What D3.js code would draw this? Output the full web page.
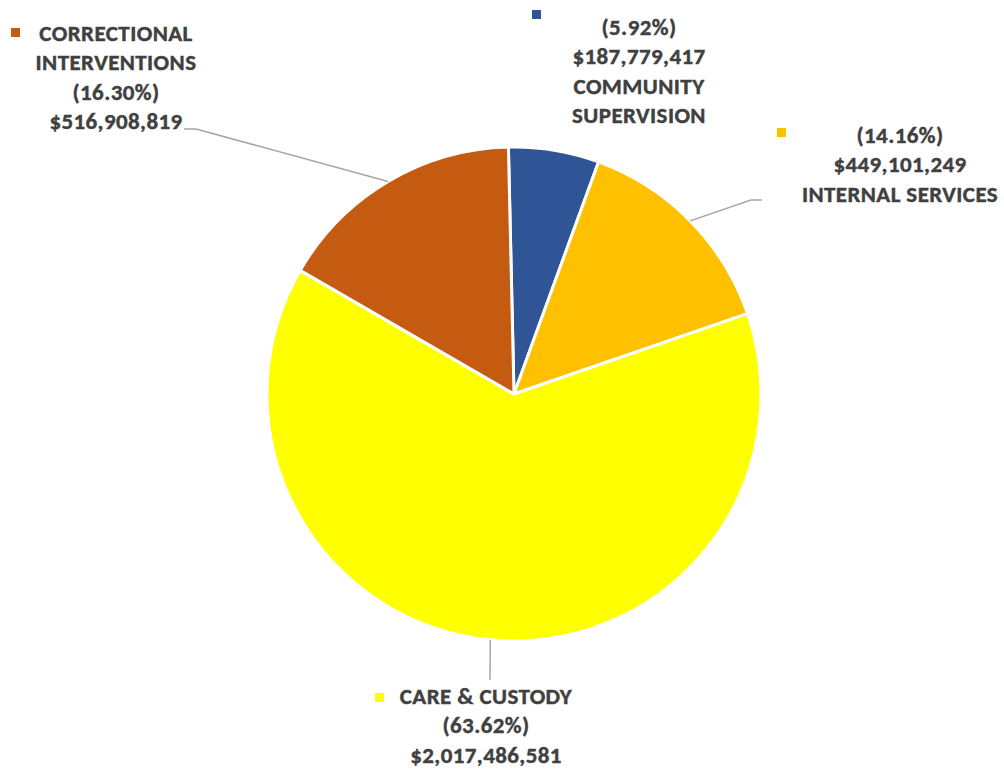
<!DOCTYPE html>
<html>
<head>
<meta charset="utf-8">
<script src="https://cdn.jsdelivr.net/npm/d3@7"></script>
<style>
  body { margin: 0; background: #fff; }
  svg text { font-family: Carlito, Calibri, Lato, sans-serif; font-weight: 700; fill: #404040; stroke: #404040; stroke-width: 0.4px; letter-spacing: 0.4px; }
</style>
</head>
<body>
<div id="pie-chart"></div>
<script>
// budget by program, clockwise from the top
const categories = ["COMMUNITY SUPERVISION", "INTERNAL SERVICES", "CARE & CUSTODY", "CORRECTIONAL INTERVENTIONS"];
const amounts = [187779417, 449101249, 2017486581, 516908819];
const percents = ["(5.92%)", "(14.16%)", "(63.62%)", "(16.30%)"];
const colors = ["#2F5597", "#FFC000", "#FFFF00", "#C55A11"];

const width = 1004,
      height = 770,
      cx = 514, cy = 394,
      radius = 247;

const rot = -1.3 * Math.PI / 180; // pie is turned a hair to the left

// label boxes: name lines, where the block sits, where the key square goes, leader elbow/end
const labelLayout = [
  { lines: ["pct", "val", "COMMUNITY", "SUPERVISION"], x: 639, y: 35, key: [532, 10] },
  { lines: ["pct", "val", "INTERNAL SERVICES"], x: 900, y: 143, key: [777, 128], leader: [[751, 200], [762, 200]] },
  { lines: ["CARE & CUSTODY", "pct", "val"], x: 486, y: 704, key: [375, 693], leader: [[490, 680]] },
  { lines: ["CORRECTIONAL", "INTERVENTIONS", "pct", "val"], x: 116, y: 41, key: [11, 28], leader: [[196, 129], [184, 129]] }
];

const data = categories.map((c, i) => ({ name: c, value: amounts[i], pct: percents[i], color: colors[i], layout: labelLayout[i] }));

const svg = d3.select("#pie-chart")
  .append("svg")
  .attr("width", width)
  .attr("height", height);

const pie = d3.pie()
  .value(d => d.value)
  .sort(null)
  .startAngle(rot)
  .endAngle(rot + 2 * Math.PI);

const arc = d3.arc().innerRadius(0).outerRadius(radius);

const g = svg.append("g").attr("transform", `translate(${cx},${cy})`);

const arcs = pie(data);

g.selectAll("path")
  .data(arcs)
  .join("path")
  .attr("d", arc)
  .attr("fill", d => d.data.color)
  .attr("stroke", "#fff")
  .attr("stroke-width", 3)
  .attr("stroke-linejoin", "round");

// leader lines start on the rim at the slice's middle angle
arcs.forEach(a => {
  const lay = a.data.layout;
  if (!lay.leader) return;
  const mid = (a.startAngle + a.endAngle) / 2;
  const pts = [[cx + radius * Math.sin(mid), cy - radius * Math.cos(mid)]].concat(lay.leader);
  svg.append("path")
    .attr("d", d3.line()(pts))
    .attr("fill", "none")
    .attr("stroke", "#A6A6A6")
    .attr("stroke-width", 1.5);
});

const lineH = 29.3;

const lab = svg.selectAll(".lab")
  .data(data)
  .join("g")
  .attr("class", "lab");

lab.append("rect")
  .attr("x", d => d.layout.key[0])
  .attr("y", d => d.layout.key[1])
  .attr("width", 9)
  .attr("height", 9)
  .attr("fill", d => d.color);

lab.each(function(d) {
  const t = d3.select(this).append("text")
    .attr("text-anchor", "middle")
    .style("font-size", "23px");
  d.layout.lines.forEach((ln, i) => {
    let s = ln === "pct" ? d.pct : ln === "val" ? d3.format("$,")(d.value) : ln;
    t.append("tspan")
      .attr("x", d.layout.x)
      .attr("y", d.layout.y + i * lineH)
      .text(s);
  });
});
</script>
</body>
</html>
